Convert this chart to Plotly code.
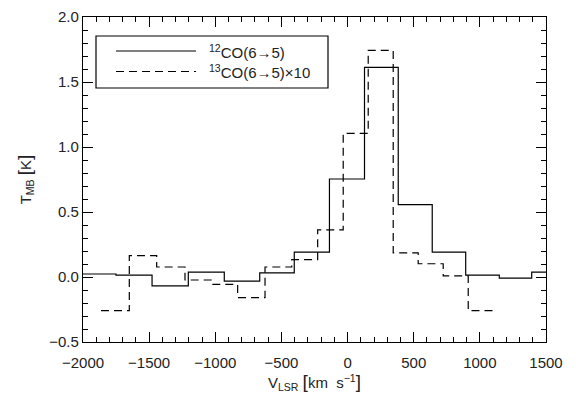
import plotly.graph_objects as go

# 12CO(6-5) channel edges (km/s) and values (K)
co12_edges = [-2000, -1751, -1478, -1204, -932, -664, -403, -137, 128, 383, 640, 893, 1147, 1392, 1500]
co12_vals = [0.023, 0.015, -0.069, 0.038, -0.031, 0.031, 0.192, 0.754, 1.612, 0.556, 0.192, 0.015, -0.008, 0.038]

# 13CO(6-5) x10 channel edges (km/s) and values (K)
co13_edges = [-1864, -1650, -1443, -1229, -1027, -831, -624, -422, -226, -33, 156, 345, 534, 723, 912, 1101]
co13_vals = [-0.259, 0.164, 0.077, -0.023, -0.057, -0.159, 0.077, 0.133, 0.362, 1.105, 1.743, 0.185, 0.102, 0.008, -0.259]

x_ticks = [-2000, -1500, -1000, -500, 0, 500, 1000, 1500]
y_ticks = [-0.5, 0.0, 0.5, 1.0, 1.5, 2.0]

FONT = "Liberation Sans, Arial, sans-serif"
TXT = "#222222"

fig = go.Figure()
fig.add_trace(go.Scatter(
    x=co12_edges, y=co12_vals + [co12_vals[-1]], mode="lines",
    line=dict(color="black", width=1.2, shape="hv"), showlegend=False))
fig.add_trace(go.Scatter(
    x=co13_edges, y=co13_vals + [co13_vals[-1]], mode="lines",
    line=dict(color="black", width=1.2, shape="hv", dash="8px,5px"), showlegend=False))

W, H = 576, 396
L, R, T, B = 83, 30, 17, 54
pw, ph = W - L - R, H - T - B

def px(x):
    return (x - L) / pw

def py(y):
    return (H - B - y) / ph

# manual legend (box, sample lines, labels)
fig.add_shape(type="rect", xref="paper", yref="paper",
              x0=px(96), x1=px(328), y0=py(88), y1=py(36),
              line=dict(color="black", width=1.2), fillcolor="white", layer="above")
fig.add_shape(type="line", xref="paper", yref="paper",
              x0=px(116), x1=px(196), y0=py(51), y1=py(51),
              line=dict(color="black", width=1.2))
fig.add_shape(type="line", xref="paper", yref="paper",
              x0=px(116), x1=px(196), y0=py(71.5), y1=py(71.5),
              line=dict(color="black", width=1.2, dash="8px,5px"))
legend_labels = ["<sup>12</sup>CO(6→5)", "<sup>13</sup>CO(6→5)×10"]
for lab, yy in zip(legend_labels, [51, 71.5]):
    fig.add_annotation(text=lab, xref="paper", yref="paper", x=px(207), y=py(yy),
                       xanchor="left", yanchor="middle", showarrow=False,
                       font=dict(family=FONT, size=15, color=TXT))

NB = "\u00a0"
LB = '<span style="font-size:19px">[</span>'
RB = '<span style="font-size:19px">]</span>'
x_title = f"V<sub>LSR</sub> {LB}km{NB}{NB}s<sup>−1</sup>{RB}"
y_title = f"T<sub>MB</sub> {LB}K{RB}"

axis_common = dict(
    showgrid=False, zeroline=False, showline=True, linecolor="black", linewidth=1.2,
    mirror="allticks", ticks="inside", ticklen=10, tickwidth=1, tickcolor="black",
    tickfont=dict(family=FONT, size=15, color=TXT), automargin=False,
)
fig.update_xaxes(
    range=[-2000, 1500], tickvals=x_ticks, ticklabelstandoff=7,
    minor=dict(dtick=100, ticks="inside", ticklen=5, tickcolor="black", tickwidth=1),
    title=dict(text=x_title, font=dict(family=FONT, size=15, color=TXT), standoff=6),
    **axis_common)
fig.update_yaxes(
    range=[-0.5, 2.0], tickvals=y_ticks, tickformat=".1f",
    minor=dict(dtick=0.1, ticks="inside", ticklen=5, tickcolor="black", tickwidth=1),
    title=dict(text=y_title, font=dict(family=FONT, size=15, color=TXT), standoff=14),
    **axis_common)

fig.update_layout(
    width=W, height=H, margin=dict(l=L, r=R, t=T, b=B, pad=0),
    paper_bgcolor="white", plot_bgcolor="white", showlegend=False,
)
fig.write_html("out.html", config={"displayModeBar": False},
               post_script="document.body.style.margin='0';document.body.style.overflow='hidden';")
